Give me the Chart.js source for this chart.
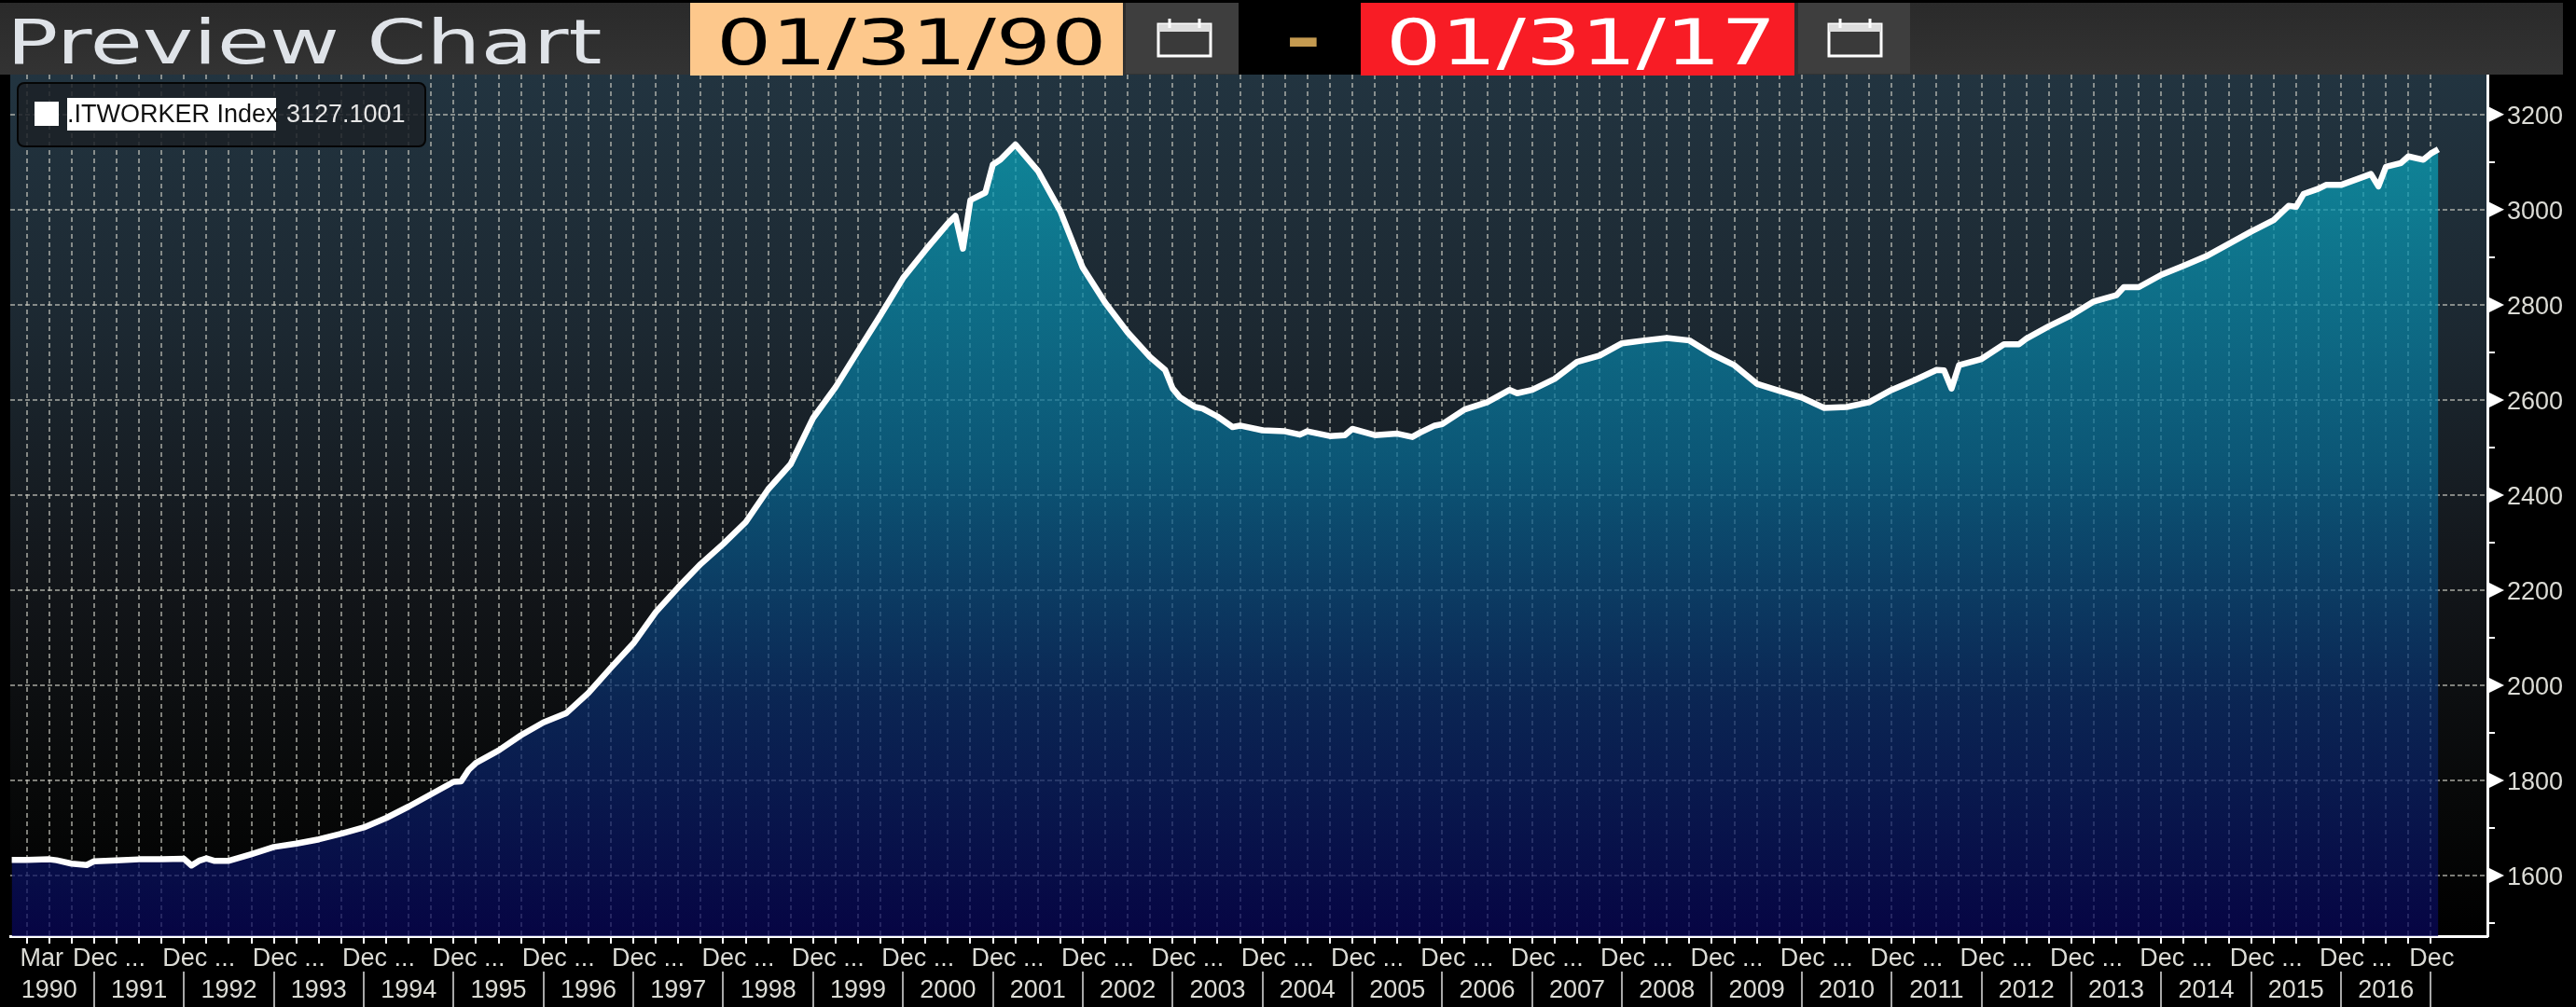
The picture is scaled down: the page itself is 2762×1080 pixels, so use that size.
<!DOCTYPE html>
<html><head><meta charset="utf-8">
<script src="https://cdn.jsdelivr.net/npm/chart.js@4/dist/chart.umd.min.js"></script>
<style>
html,body{margin:0;padding:0;background:#000;overflow:hidden;width:2762px;height:1080px}
#c{position:absolute;left:0;top:0}
.abs{position:absolute}
.big{font-family:"DejaVu Sans";font-size:68px;line-height:78px;white-space:nowrap;display:inline-block;transform-origin:left top;transform:scaleX(1.37)}
#legend{left:18px;top:88px;width:435px;height:66px;border:2px solid #050505;border-radius:8px;background:rgba(28,33,38,.86);font:27px "Liberation Sans";color:#e6e6e6}
</style></head><body>
<canvas id="c" width="2762" height="1080"></canvas>
<div class="abs" style="left:0;top:3px;width:2748px;height:77px;background:linear-gradient(#2a2a2a,#333)"></div>
<div class="abs big" style="left:7px;top:7px;color:#dfe3e8;font-size:66px;transform:scaleX(1.39)">Preview Chart</div>
<div class="abs" style="left:740px;top:3px;width:464px;height:78px;background:#fdc88c"></div>
<div class="abs big" style="left:768px;top:7px;color:#000">01/31/90</div>
<div class="abs" style="left:1207px;top:3px;width:121px;height:76px;background:#3e3e3e"></div>
<svg class="abs" style="left:1240px;top:18px" width="60" height="44"><path d="M2 8H58V42H2Z" fill="#3a3a3a" stroke="#fff" stroke-width="3"/><path d="M2 8H58V16H2Z" fill="#ddd"/><path d="M14 2V12M46 2V12" stroke="#fff" stroke-width="3"/></svg>
<div class="abs" style="left:1328px;top:0;width:131px;height:80px;background:#000"></div>
<div class="abs big" style="left:1378px;top:3px;color:#c49a50;font-weight:bold">-</div>
<div class="abs" style="left:1459px;top:3px;width:465px;height:78px;background:#f81c25"></div>
<div class="abs big" style="left:1486px;top:7px;color:#fff">01/31/17</div>
<div class="abs" style="left:1928px;top:3px;width:120px;height:76px;background:#3e3e3e"></div>
<svg class="abs" style="left:1959px;top:18px" width="60" height="44"><path d="M2 8H58V42H2Z" fill="#3a3a3a" stroke="#fff" stroke-width="3"/><path d="M2 8H58V16H2Z" fill="#ddd"/><path d="M14 2V12M46 2V12" stroke="#fff" stroke-width="3"/></svg>
<div id="legend" class="abs">
  <div class="abs" style="left:17px;top:19px;width:26px;height:26px;background:#fff"></div>
  <div class="abs" style="left:52px;top:15px;width:224px;height:35px;line-height:35px;background:#fff;color:#111;white-space:nowrap">.ITWORKER Index</div>
  <div class="abs" style="left:287px;top:15px;line-height:35px">3127.1001</div>
</div>
<script>
// months counted from Jan 1990 = 0
const months=[0,2,5,6,8,10,11,14,17,20,23,24,25,26,27,29,32,35,38,41,44,47,50,53,56,59,60,61,62,65,68,71,74,77,80,83,86,89,92,95,98,101,104,107,110,113,116,119,122,125,126,127,128,130,131,132,134,137,140,143,146,149,152,154,155,156,158,159,161,163,164,167,170,172,173,176,178,179,182,185,187,188,190,191,194,197,200,201,203,206,209,212,215,218,221,224,227,230,233,236,239,242,245,248,251,254,257,258,259,260,263,266,268,269,272,275,278,281,282,284,287,290,293,296,299,302,304,305,306,308,309,311,314,315,316,317,319,320,322,323,324];
const values=[1633,1633,1634,1632,1625,1622,1630,1632,1634,1634,1635,1621,1631,1636,1631,1631,1645,1660,1667,1676,1688,1701,1721,1745,1771,1797,1798,1822,1837,1863,1895,1922,1941,1984,2037,2088,2154,2206,2255,2297,2343,2412,2465,2562,2627,2703,2778,2856,2915,2971,2987,2918,3020,3036,3095,3105,3137,3082,2997,2878,2804,2742,2690,2663,2624,2605,2585,2582,2565,2543,2546,2536,2534,2527,2534,2524,2526,2539,2526,2529,2522,2531,2546,2549,2580,2595,2621,2614,2621,2644,2680,2693,2719,2725,2730,2725,2696,2673,2634,2619,2605,2583,2585,2595,2621,2641,2663,2662,2624,2673,2686,2717,2717,2729,2755,2778,2807,2820,2837,2837,2863,2882,2902,2928,2954,2978,3008,3006,3033,3044,3052,3052,3069,3075,3049,3090,3098,3112,3105,3118,3127];
const yTicks=[1500,1600,1700,1800,1900,2000,2100,2200,2300,2400,2500,2600,2700,2800,2900,3000,3100,3200];
const yLabelled=[1600,1800,2000,2200,2400,2600,2800,3000,3200];
const quarterTicks=[2,5,8,11,14,17,20,23,26,29,32,35,38,41,44,47,50,53,56,59,62,65,68,71,74,77,80,83,86,89,92,95,98,101,104,107,110,113,116,119,122,125,128,131,134,137,140,143,146,149,152,155,158,161,164,167,170,173,176,179,182,185,188,191,194,197,200,203,206,209,212,215,218,221,224,227,230,233,236,239,242,245,248,251,254,257,260,263,266,269,272,275,278,281,284,287,290,293,296,299,302,305,308,311,314,317,320,323];
const decemberTicks=[11,23,35,47,59,71,83,95,107,119,131,143,155,167,179,191,203,215,227,239,251,263,275,287,299,311,323];
const years=['1990','1991','1992','1993','1994','1995','1996','1997','1998','1999','2000','2001','2002','2003','2004','2005','2006','2007','2008','2009','2010','2011','2012','2013','2014','2015','2016'];
const yearCenters=[5,17,29,41,53,65,77,89,101,113,125,137,149,161,173,185,197,209,221,233,245,257,269,281,293,305,317];

const NB='\u00a0';
function monthLabel(m){
  if(m===2) return 'Mar';
  if(m===323) return 'Dec'+NB+NB+NB+NB;
  return decemberTicks.includes(m)?'Dec ...':'';
}
const FONT={family:'"Liberation Sans"',size:27};
const TXT='#dcdcd6', GRID='rgba(200,200,190,0.62)';

const deco={id:'deco',
  beforeDraw(ch){
    const {ctx,chartArea:a}=ch;
    const g=ctx.createLinearGradient(0,a.top,0,a.bottom);
    g.addColorStop(0,'#223440');g.addColorStop(.3,'#1c2831');g.addColorStop(.6,'#121519');g.addColorStop(.85,'#070808');g.addColorStop(1,'#000');
    ctx.fillStyle=g;ctx.fillRect(a.left,a.top,a.right-a.left,a.bottom-a.top);
  },
  afterDraw(ch){
    const {ctx,chartArea:a,scales}=ch;
    ctx.save();
    ctx.fillStyle='#fff';
    yLabelled.forEach(v=>{const y=scales.y.getPixelForValue(v);
      ctx.beginPath();ctx.moveTo(a.right,y-9);ctx.lineTo(a.right+18,y);ctx.lineTo(a.right,y+9);ctx.closePath();ctx.fill();});
    ctx.strokeStyle='#a8a8a8';ctx.lineWidth=2;
    decemberTicks.forEach(m=>{const x=Math.round(scales.x.getPixelForValue(m));
      ctx.beginPath();ctx.moveTo(x,1042);ctx.lineTo(x,1080);ctx.stroke();});
    ctx.restore();
  }};

new Chart(document.getElementById('c'),{
  type:'line',
  data:{datasets:[{
    data:months.map((m,i)=>({x:m,y:values[i]})),
    borderColor:'#fff',borderWidth:6.5,pointRadius:0,tension:0,borderJoinStyle:'round',fill:'start',
    backgroundColor(c){
      const a=c.chart.chartArea; if(!a) return 'transparent';
      const g=c.chart.ctx.createLinearGradient(0,a.top,0,a.bottom);
      g.addColorStop(0,'rgba(10,172,190,.75)');
      g.addColorStop(.45,'rgba(8,105,145,.75)');
      g.addColorStop(.72,'rgba(10,46,106,.75)');
      g.addColorStop(1,'rgba(8,6,90,.75)');
      return g;
    }
  }]},
  options:{
    responsive:false,animation:false,
    layout:{autoPadding:false,padding:{left:11,top:80,right:0,bottom:0}},
    plugins:{legend:{display:false},tooltip:{enabled:false}},
    scales:{
      x:{type:'linear',position:'bottom',min:-0.2,max:330.55,
        afterBuildTicks(s){s.ticks=quarterTicks.map(v=>({value:v}));},
        afterFit(s){s.height=38;},
        border:{color:'#fff',width:3,dash:[5,4]},
        grid:{color:GRID,lineWidth:2,tickColor:'#fff',tickLength:8,tickBorderDash:[]},
        ticks:{autoSkip:false,maxRotation:0,minRotation:0,padding:0,labelOffset:16,color:TXT,font:FONT,
          callback:v=>monthLabel(v)}
      },
      xYear:{type:'linear',position:'bottom',min:-0.2,max:330.55,
        afterBuildTicks(s){s.ticks=yearCenters.map(v=>({value:v}));},
        afterFit(s){s.height=38;},
        border:{display:false},
        grid:{display:false,drawTicks:false},
        ticks:{autoSkip:false,maxRotation:0,minRotation:0,padding:4,color:TXT,font:FONT,
          callback:v=>years[yearCenters.indexOf(v)]}
      },
      y:{type:'linear',position:'right',min:1472.5,max:3284,
        afterBuildTicks(s){s.ticks=yTicks.map(v=>({value:v}));},
        afterFit(s){s.width=95;},
        border:{color:'#fff',width:3,dash:[5,3]},
        grid:{lineWidth:2,tickLength:8,tickBorderDash:[],tickColor:'#fff',
          color:c=>yLabelled.includes(c.tick.value)?GRID:'transparent'},
        ticks:{padding:13,labelOffset:3,color:TXT,font:FONT,autoSkip:false,
          callback:v=>yLabelled.includes(v)?String(v):''}
      }
    }
  },
  plugins:[deco]
});
</script>
</body></html>
